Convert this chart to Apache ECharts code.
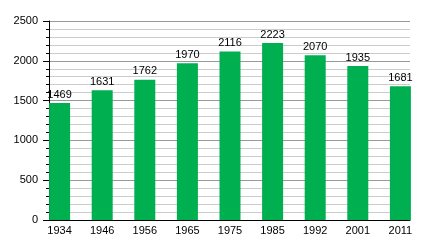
<!DOCTYPE html>
<html><head><meta charset="utf-8">
<script src="https://cdn.jsdelivr.net/npm/echarts@6/dist/echarts.min.js"></script>
<style>html,body{margin:0;padding:0;background:#fff}#c{width:440px;height:240px}</style>
</head><body><div id="c"></div>
<script>
const years = ['1934','1946','1956','1965','1975','1985','1992','2001','2011'];
const population = [1469,1631,1762,1970,2116,2223,2070,1935,1681];
const yMin = 0, yMax = 2500, yStep = 500, yMinorStep = 100;

const font = 'Liberation Sans, Arial, sans-serif';
const chart = echarts.init(document.getElementById('c'), null, {renderer:'canvas'});
chart.setOption({
  animation:false,
  backgroundColor:'#fff',
  grid:[
    {left:49, right:30, top:21, bottom:20},
    {left:38.3, right:18.3, top:21, bottom:20}
  ],
  xAxis:[
    {gridIndex:0, type:'value', min:0, max:1, show:true,
     axisLine:{show:true, lineStyle:{color:'#000', width:1}}, axisTick:{show:false},
     axisLabel:{show:false}, splitLine:{show:false}},
    {gridIndex:1, type:'category', data:years, boundaryGap:true,
     axisLine:{show:false}, axisTick:{show:false},
     axisLabel:{color:'#000', fontFamily:font, fontSize:11, margin:5}}
  ],
  yAxis:[
    {gridIndex:0, type:'value', min:yMin, max:yMax, interval:yStep,
     axisLine:{show:true, lineStyle:{color:'#000', width:1}},
     axisTick:{show:true, length:6, lineStyle:{color:'#000'}},
     minorTick:{show:true, splitNumber:yStep/yMinorStep, length:3, lineStyle:{color:'#000'}},
     axisLabel:{color:'#000', fontFamily:font, fontSize:11, margin:11, formatter:v=>String(v)},
     splitLine:{show:true, lineStyle:{color:'#999', width:1}},
     minorSplitLine:{show:true, lineStyle:{color:'#ccc', width:1}}},
    {gridIndex:1, type:'value', min:yMin, max:yMax, show:false}
  ],
  series:[{
    type:'bar', xAxisIndex:1, yAxisIndex:1, data:population, barWidth:21,
    itemStyle:{color:'#00B050'},
    label:{show:true, position:'top', distance:3, color:'#000', fontFamily:font, fontSize:11, formatter:p=>String(p.value)}
  }]
});
</script></body></html>
